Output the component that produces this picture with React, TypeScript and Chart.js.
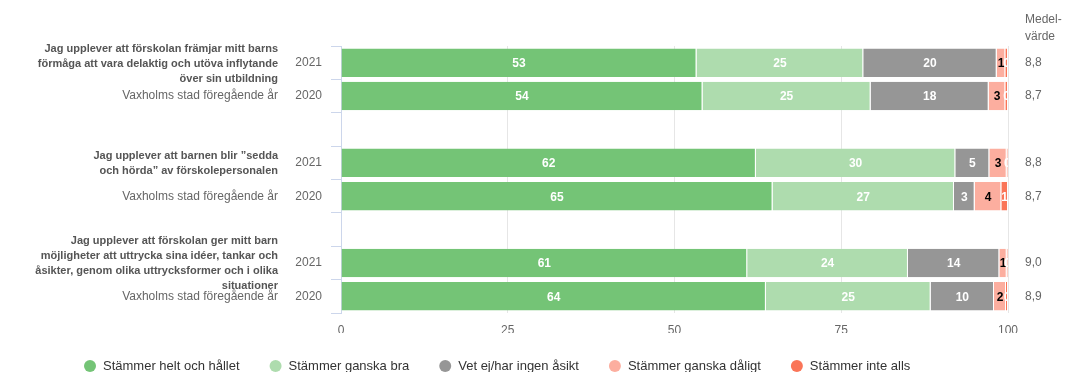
import React, { useEffect, useRef } from 'react';
import { Chart, registerables } from 'chart.js';

Chart.register(...registerables);

const FONT = '"Liberation Sans", Arial, sans-serif';

// Question labels (one per pair of rows)
const questions: string[][] = [
  ['Jag upplever att förskolan främjar mitt barns', 'förmåga att vara delaktig och utöva inflytande', 'över sin utbildning'],
  ['Jag upplever att barnen blir ”sedda', 'och hörda” av förskolepersonalen'],
  ['Jag upplever att förskolan ger mitt barn', 'möjligheter att uttrycka sina idéer, tankar och', 'åsikter, genom olika uttrycksformer och i olika', 'situationer'],
];
const years = ['2021', '2020'];
const prevLabel = 'Vaxholms stad föregående år';

const seriesNames = [
  'Stämmer helt och hållet',
  'Stämmer ganska bra',
  'Vet ej/har ingen åsikt',
  'Stämmer ganska dåligt',
  'Stämmer inte alls',
];
const seriesColors = ['#74c476', '#aedcae', '#969696', '#fcae9f', '#fa7558'];
const labelColors = ['#ffffff', '#ffffff', '#ffffff', '#000000', '#ffffff'];

// rows: Q1 2021, Q1 2020, Q2 2021, Q2 2020, Q3 2021, Q3 2020
const heltOchHallet = [53.3, 54.2, 62.2, 64.7, 60.9, 63.7];
const ganskaBra = [25.0, 25.2, 29.9, 27.2, 24.1, 24.7];
const vetEj = [20.0, 17.7, 5.1, 3.1, 13.7, 9.5];
const ganskaDaligt = [1.3, 2.5, 2.6, 4.0, 1.1, 1.8];
const inteAlls = [0.4, 0.4, 0.2, 1.0, 0.2, 0.3];

const meanHeader = ['Medel-', 'värde'];
const means = ['8,8', '8,7', '8,8', '8,7', '9,0', '8,9'];

const xTicks = [0, 25, 50, 75, 100];

// 8 category slots: two rows per question, an empty slot between questions
const slotOf = (row: number) => Math.floor(row / 2) * 3 + (row % 2);
const SLOT_COUNT = questions.length * 3 - 1;
const slotLabels = Array.from({ length: SLOT_COUNT }, (_, i) => 's' + i);
const toSlots = (vals: number[]) => {
  const out: (number | null)[] = Array(SLOT_COUNT).fill(null);
  vals.forEach((v, r) => (out[slotOf(r)] = v));
  return out;
};
const allSeries = [heltOchHallet, ganskaBra, vetEj, ganskaDaligt, inteAlls];

const sidePlugin = {
  id: 'sideTexts',
  afterDraw(chart: any) {
    const ctx = chart.ctx as CanvasRenderingContext2D;
    const y = chart.scales.y;
    const area = chart.chartArea;
    ctx.save();
    ctx.textBaseline = 'middle';
    // left labels
    questions.forEach((lines, q) => {
      const yc = y.getPixelForValue(slotOf(q * 2)) + 1;
      const lh = 15;
      ctx.font = `bold 11px ${FONT}`;
      ctx.fillStyle = '#555555';
      ctx.textAlign = 'right';
      lines.forEach((ln, i) => {
        ctx.fillText(ln, 278, yc - ((lines.length - 1) * lh) / 2 + i * lh);
      });
      const y2 = y.getPixelForValue(slotOf(q * 2 + 1));
      ctx.font = `12px ${FONT}`;
      ctx.fillStyle = '#666666';
      ctx.fillText(prevLabel, 278, y2);
      ctx.fillText(years[0], 322, y.getPixelForValue(slotOf(q * 2)));
      ctx.fillText(years[1], 322, y2);
    });
    // right mean column
    ctx.textAlign = 'left';
    ctx.font = `12px ${FONT}`;
    ctx.fillStyle = '#666666';
    const mx = area.right + 17;
    ctx.fillText(meanHeader[0], mx, 20);
    ctx.fillText(meanHeader[1], mx, 37);
    means.forEach((m, r) => ctx.fillText(m, mx, y.getPixelForValue(slotOf(r))));
    // legend
    ctx.font = `13px ${FONT}`;
    let lx = 84;
    const ly = 366;
    seriesNames.forEach((name, i) => {
      ctx.fillStyle = seriesColors[i];
      ctx.beginPath();
      ctx.arc(lx + 6, ly, 6, 0, Math.PI * 2);
      ctx.fill();
      ctx.fillStyle = '#333333';
      ctx.fillText(name, lx + 19, ly);
      lx += 19 + ctx.measureText(name).width + 30;
    });
    ctx.restore();
  },
};

const dataLabelPlugin = {
  id: 'barLabels',
  afterDatasetsDraw(chart: any) {
    const ctx = chart.ctx as CanvasRenderingContext2D;
    const area = chart.chartArea;
    ctx.save();
    ctx.beginPath();
    ctx.rect(area.left, area.top, area.right - area.left, area.bottom - area.top);
    ctx.clip();
    ctx.font = `bold 12px ${FONT}`;
    ctx.textAlign = 'center';
    ctx.textBaseline = 'middle';
    chart.data.datasets.forEach((ds: any, i: number) => {
      const meta = chart.getDatasetMeta(i);
      meta.data.forEach((el: any, idx: number) => {
        const v = ds.data[idx];
        if (v == null) return;
        const p = el.getProps(['x', 'base', 'y'], true);
        ctx.fillStyle = labelColors[i];
        ctx.fillText(String(Math.round(v)), (p.x + p.base) / 2, p.y + 1);
      });
    });
    ctx.restore();
  },
};

export default function App() {
  const ref = useRef<HTMLCanvasElement>(null);
  useEffect(() => {
    if (!ref.current) return;
    const chart = new Chart(ref.current, {
      type: 'bar',
      data: {
        labels: slotLabels,
        datasets: allSeries.map((vals, i) => ({
          label: seriesNames[i],
          data: toSlots(vals),
          backgroundColor: seriesColors[i],
          borderColor: '#ffffff',
          borderWidth: { top: 0, bottom: 0, left: 0, right: 1 },
          borderSkipped: false,
          barPercentage: 0.855,
          categoryPercentage: 1,
        })),
      },
      options: {
        indexAxis: 'y',
        animation: false,
        responsive: false,
        maintainAspectRatio: false,
        layout: { padding: { top: 46, right: 59, bottom: 39, left: 0 } },
        plugins: { legend: { display: false }, tooltip: { enabled: false } },
        scales: {
          x: {
            type: 'linear',
            stacked: true,
            min: 0,
            max: 100,
            afterBuildTicks: (s: any) => {
              s.ticks = xTicks.map((v) => ({ value: v }));
            },
            ticks: { color: '#666666', font: { size: 12, family: FONT }, padding: 10, maxRotation: 0 },
            grid: { color: '#e6e6e6', drawTicks: false },
            border: { display: false },
            afterFit: (s: any) => {
              s.height = 20;
            },
          },
          y: {
            type: 'category',
            stacked: true,
            offset: true,
            ticks: { display: false },
            grid: { offset: true, drawOnChartArea: false, color: '#ccd6eb', tickLength: 10 },
            border: { display: true, color: '#ccd6eb' },
            afterFit: (s: any) => {
              s.width = 341;
            },
          },
        },
      } as any,
      plugins: [dataLabelPlugin, sidePlugin],
    });
    return () => chart.destroy();
  }, []);
  return (
    <div style={{ position: 'absolute', left: 0, top: 0, width: 1067, height: 372, background: '#fff' }}>
      <canvas ref={ref} width={1067} height={372} />
    </div>
  );
}
